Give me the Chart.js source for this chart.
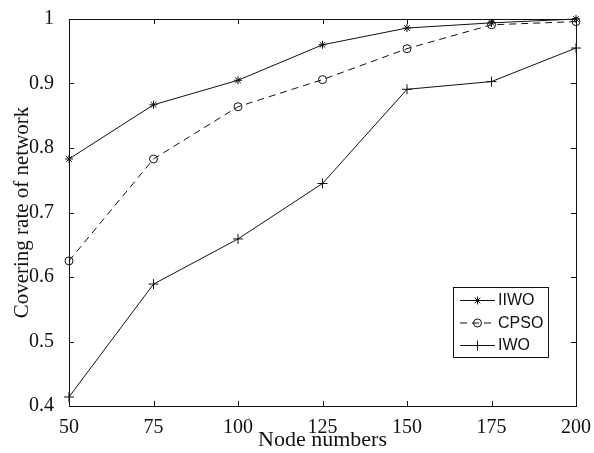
<!DOCTYPE html>
<html>
<head>
<meta charset="utf-8">
<title>Covering rate of network</title>
<script src="https://cdn.jsdelivr.net/npm/chart.js@4.4.1/dist/chart.umd.min.js"></script>
<style>
    html, body { margin: 0; padding: 0; background: #fff; }
    #wrap { width: 594px; height: 453px; }
</style>
</head>
<body>
<div id="wrap"><canvas id="chart" width="594" height="453"></canvas></div>
<script>
const NODE_NUMBERS = [50, 75, 100, 125, 150, 175, 200];
const IIWO_VALUES = [0.783, 0.867, 0.905, 0.960, 0.986, 0.994, 1.000];
const CPSO_VALUES = [0.625, 0.783, 0.864, 0.906, 0.954, 0.991, 0.996];
const IWO_VALUES = [0.414, 0.589, 0.659, 0.745, 0.891, 0.903, 0.955];

const X_TICKS = [50, 75, 100, 125, 150, 175, 200];
const Y_TICKS = [0.4, 0.5, 0.6, 0.7, 0.8, 0.9, 1];

const LINE_COLOR = "#111";
const SERIF = "'Liberation Serif', 'Times New Roman', serif";
const SANS = "'Liberation Sans', Arial, sans-serif";

function toPoints(values) {

    return NODE_NUMBERS.map((node, index) => ({ x: node, y: values[index] }));
}

function makeDataset(label, values, pointStyle, radius, dash) {

    return {
        label,
        data: toPoints(values),
        borderColor: LINE_COLOR,
        backgroundColor: "rgba(0,0,0,0)",
        borderWidth: 1,
        borderDash: dash,
        pointStyle,
        pointRadius: radius,
        pointHoverRadius: radius,
        pointBorderColor: LINE_COLOR,
        pointBackgroundColor: "rgba(0,0,0,0)",
        pointBorderWidth: 1,
        tension: 0,
        clip: false
    };
}

// box round the plot with inward ticks on all four sides
const frameTicks = {
    id: "frameTicks",
    afterDatasetsDraw(chart) {

        const { ctx, chartArea, scales } = chart;
        const len = 5;

        ctx.save();
        ctx.strokeStyle = LINE_COLOR;
        ctx.lineWidth = 1;
        ctx.strokeRect(chartArea.left + 0.5, chartArea.top + 0.5,
            chartArea.right - chartArea.left, chartArea.bottom - chartArea.top);

        ctx.beginPath();
        X_TICKS.forEach((value) => {
            const px = Math.round(scales.x.getPixelForValue(value)) + 0.5;
            ctx.moveTo(px, chartArea.bottom);
            ctx.lineTo(px, chartArea.bottom - len);
            ctx.moveTo(px, chartArea.top);
            ctx.lineTo(px, chartArea.top + len);
        });
        Y_TICKS.forEach((value) => {
            const py = Math.round(scales.y.getPixelForValue(value)) + 0.5;
            ctx.moveTo(chartArea.left, py);
            ctx.lineTo(chartArea.left + len, py);
            ctx.moveTo(chartArea.right, py);
            ctx.lineTo(chartArea.right - len, py);
        });
        ctx.stroke();
        ctx.restore();
    }
};

// legend box inside the plot, lower right
const boxLegend = {
    id: "boxLegend",
    afterDraw(chart) {

        const { ctx } = chart;
        const box = { left: 453, top: 287, width: 95, height: 70 };
        const rowStart = 300;
        const rowGap = 22.5;

        ctx.save();
        ctx.fillStyle = "#fff";
        ctx.fillRect(box.left, box.top, box.width, box.height);
        ctx.strokeStyle = LINE_COLOR;
        ctx.lineWidth = 1;
        ctx.strokeRect(box.left + 0.5, box.top + 0.5, box.width, box.height);

        chart.data.datasets.forEach((dataset, index) => {

            const y = rowStart + index * rowGap;

            ctx.strokeStyle = LINE_COLOR;
            ctx.setLineDash(dataset.borderDash || []);
            ctx.beginPath();
            ctx.moveTo(460, y + 0.5);
            ctx.lineTo(495, y + 0.5);
            ctx.stroke();
            ctx.setLineDash([]);

            ctx.fillStyle = "rgba(0,0,0,0)";
            Chart.helpers.drawPoint(ctx, {
                pointStyle: dataset.pointStyle,
                radius: dataset.pointRadius,
                borderWidth: 1,
                rotation: 0
            }, 477.5, y + 0.5);

            ctx.fillStyle = LINE_COLOR;
            ctx.font = "16px " + SANS;
            ctx.textAlign = "left";
            ctx.textBaseline = "middle";
            ctx.fillText(dataset.label, 498, y + 1);
        });
        ctx.restore();
    }
};

const chartConfig = {
    type: "line",
    data: {
        datasets: [
            makeDataset("IIWO", IIWO_VALUES, "star", 4, []),
            makeDataset("CPSO", CPSO_VALUES, "circle", 4, [7, 5]),
            makeDataset("IWO", IWO_VALUES, "cross", 5, [])
        ]
    },
    options: {
        responsive: false,
        animation: false,
        layout: {
            padding: { left: 0, top: 16, right: 18, bottom: 0 }
        },
        plugins: {
            legend: { display: false },
            tooltip: { enabled: false }
        },
        scales: {
            x: {
                type: "linear",
                min: 50,
                max: 200,
                afterBuildTicks(scale) {
                    scale.ticks = X_TICKS.map((value) => ({ value }));
                },
                afterFit(scale) {
                    scale.height = 47;
                },
                grid: { display: false },
                border: { display: false },
                ticks: {
                    color: LINE_COLOR,
                    font: { family: SERIF, size: 20 },
                    padding: 2,
                    maxRotation: 0
                },
                title: {
                    display: true,
                    text: "Node numbers",
                    color: LINE_COLOR,
                    font: { family: SERIF, size: 22 },
                    padding: { top: -10, bottom: 0 }
                }
            },
            y: {
                type: "linear",
                min: 0.4,
                max: 1,
                afterBuildTicks(scale) {
                    scale.ticks = Y_TICKS.map((value) => ({ value }));
                },
                afterFit(scale) {
                    scale.width = 69;
                },
                grid: { display: false },
                border: { display: false },
                ticks: {
                    color: LINE_COLOR,
                    font: { family: SERIF, size: 20 },
                    padding: 7,
                    callback: (value) => String(Math.round(value * 10) / 10)
                },
                title: {
                    display: true,
                    text: "Covering rate of network",
                    color: LINE_COLOR,
                    font: { family: SERIF, size: 21 },
                    padding: { top: 10, bottom: 0 }
                }
            }
        }
    },
    plugins: [frameTicks, boxLegend]
};

new Chart(document.getElementById("chart").getContext("2d"), chartConfig);
</script>
</body>
</html>
